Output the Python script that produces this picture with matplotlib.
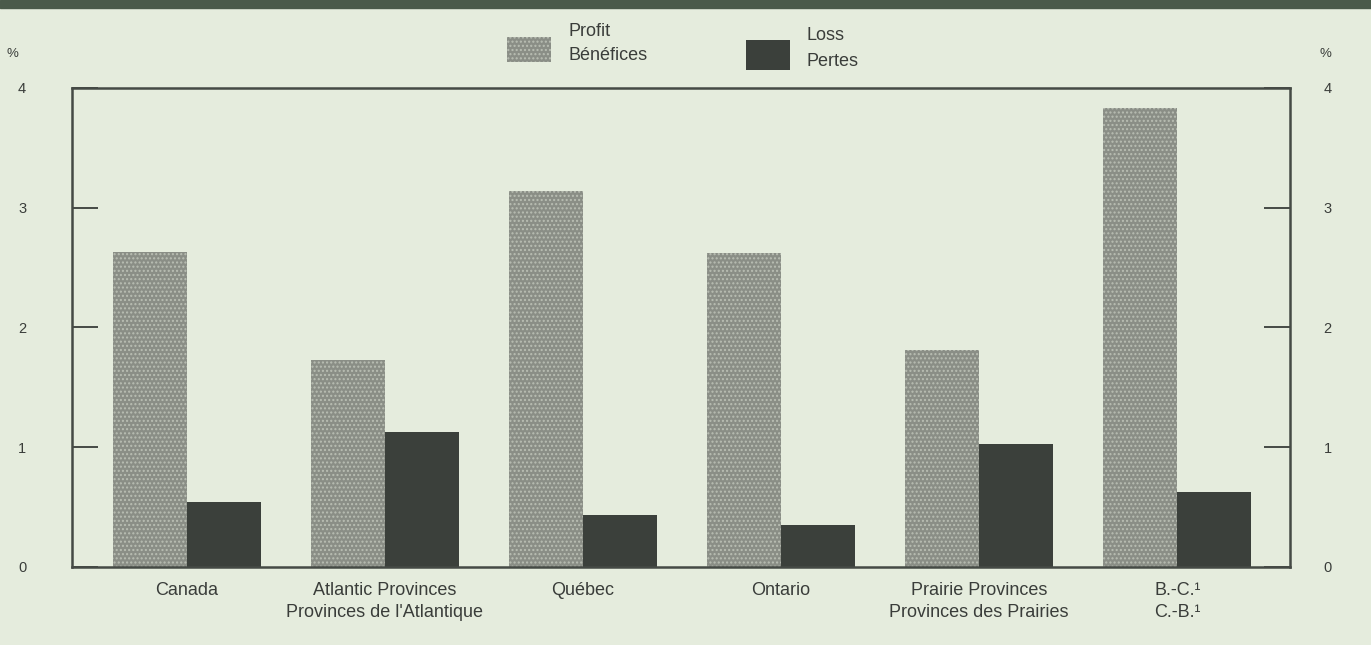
import matplotlib
matplotlib.use("Agg")
import matplotlib.pyplot as plt
from matplotlib.patches import Rectangle
import numpy as np

categories = ["Canada", "Atlantic Provinces\nProvinces de l'Atlantique", "Québec",
              "Ontario", "Prairie Provinces\nProvinces des Prairies", "B.-C.¹\nC.-B.¹"]
profit = [2.63, 1.73, 3.14, 2.62, 1.81, 3.83]
loss = [0.54, 1.13, 0.43, 0.35, 1.03, 0.63]
yticks = [0, 1, 2, 3, 4]

plt.rcParams['font.family'] = ['Liberation Sans', 'DejaVu Sans']
BG = '#e5ecdd'
PROFIT = '#8a8e86'
LOSS = '#3b403b'
FRAME = '#454a45'
TXT = '#3a3d3a'

fig = plt.figure(figsize=(13.71, 6.45), dpi=100, facecolor=BG)
ax = fig.add_axes([0.0525, 0.121, 0.8885, 0.7426])
ax.set_facecolor(BG)

x = np.arange(len(categories))
w = 0.374
ax.bar(x - w / 2, profit, width=w, color=PROFIT, edgecolor='#b9beb3', linewidth=0, hatch='....')
ax.bar(x + w / 2, loss, width=w, color=LOSS, linewidth=0)

ax.set_xlim(-0.58, 5.57)
ax.set_ylim(0, 4)
for s in ax.spines.values():
    s.set_color(FRAME)
    s.set_linewidth(1.8)

ax.set_xticks(x)
ax.set_xticklabels(categories, fontsize=13, color=TXT, linespacing=1.4, va='top')
ax.tick_params(axis='x', length=0, pad=11)

ax.set_yticks(yticks)
ax.set_yticklabels([str(v) for v in yticks], fontsize=10.5, color=TXT)
ax.tick_params(axis='y', direction='in', length=19, width=1.4, color=FRAME, pad=33)

ax2 = ax.twinx()
ax2.set_ylim(0, 4)
ax2.set_yticks(yticks)
ax2.set_yticklabels([str(v) for v in yticks], fontsize=10.5, color=TXT)
ax2.tick_params(axis='y', direction='in', length=19, width=1.4, color=FRAME, pad=24)
for s in ax2.spines.values():
    s.set_visible(False)

fig.text(0.009, 0.916, '%', fontsize=9.5, color=TXT, ha='center', va='center')
fig.text(0.967, 0.916, '%', fontsize=9.5, color=TXT, ha='center', va='center')

# top dark stripe
fig.patches.append(Rectangle((0, 0.988), 1, 0.012, transform=fig.transFigure,
                             color='#4a5a4a', zorder=0))

# legend
fig.patches.append(Rectangle((507 / 1371, 1 - 62 / 645), 44 / 1371, 25 / 645,
                             transform=fig.transFigure, facecolor=PROFIT,
                             edgecolor='#b9beb3', hatch='....', linewidth=0))
fig.patches.append(Rectangle((746 / 1371, 1 - 70 / 645), 44 / 1371, 30 / 645,
                             transform=fig.transFigure, facecolor=LOSS, linewidth=0))
fig.text(569 / 1371, 1 - 31 / 645, 'Profit', fontsize=13, color=TXT, va='center')
fig.text(569 / 1371, 1 - 56 / 645, 'Bénéfices', fontsize=13, color=TXT, va='center')
fig.text(806 / 1371, 1 - 36 / 645, 'Loss', fontsize=13, color=TXT, va='center')
fig.text(806 / 1371, 1 - 62 / 645, 'Pertes', fontsize=13, color=TXT, va='center')

fig.savefig('out.png', dpi=100, facecolor=BG)
